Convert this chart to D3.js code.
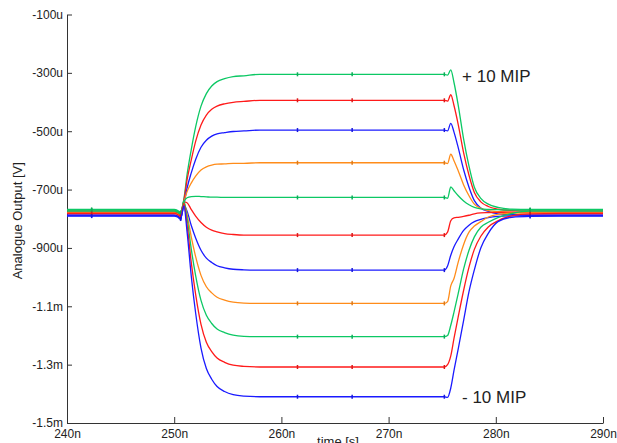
<!DOCTYPE html>
<html>
<head>
<meta charset="utf-8">
<script src="https://cdn.jsdelivr.net/npm/d3@7"></script>
<style>
  body { margin: 0; background: #fff; }
  svg text { font-family: "Liberation Sans", Arial, sans-serif; fill: #222; }
</style>
</head>
<body>
<svg id="chart" width="617" height="443"></svg>
<script>
// ==========================
// DATA (time in ns, output in uV)
// ==========================
const timeNs = [240, 242.3, 250.0, 250.3, 250.6, 250.9, 251.2, 251.6, 252.0, 252.5, 253.0, 253.5, 254.0, 254.7, 255.5, 256.5, 258,
  261.5, 266.6, 271, 275.2, 275.5, 275.8, 276.1, 276.5, 277.0, 277.5, 278.0, 278.6, 279.3, 280.2, 281.5, 283.2, 286, 290];

const curve1 = [-768, -768, -768, -771, -778, -733, -649, -561, -485, -414, -371, -345, -330, -320, -313, -310, -305,
  -305, -305, -305, -305, -308, -290, -333, -412, -527, -620, -692, -730, -750, -761, -767, -768, -768, -768];
const curve2 = [-773, -773, -773, -776, -783, -738, -667, -597, -535, -479, -445, -425, -414, -406, -401, -398, -394,
  -394, -394, -394, -394, -397, -375, -412, -478, -574, -651, -710, -742, -758, -767, -772, -773, -773, -773];
const curve3 = [-787, -787, -787, -790, -797, -752, -695, -642, -597, -555, -531, -517, -509, -505, -501, -499, -496,
  -496, -496, -496, -496, -499, -473, -503, -557, -632, -692, -738, -763, -775, -783, -786, -787, -787, -787];
const curve4 = [-779, -779, -779, -782, -789, -744, -707, -677, -654, -633, -622, -616, -613, -612, -610, -610, -608,
  -608, -608, -608, -608, -611, -579, -601, -636, -684, -721, -750, -764, -772, -776, -778, -779, -779, -779];
const curve5 = [-770, -770, -770, -773, -780, -742, -728, -724, -723, -724, -725, -726, -726, -727, -727, -727, -727,
  -727, -727, -727, -727, -730, -691, -704, -721, -739, -752, -761, -766, -768, -769, -770, -770, -770, -770];
const curve6 = [-777, -777, -777, -780, -787, -742, -745, -769, -791, -813, -829, -839, -845, -851, -854, -856, -856,
  -856, -856, -856, -856, -846, -807, -797, -795, -792, -788, -783, -780, -779, -778, -777, -777, -777, -777];
const curve7 = [-789, -789, -789, -792, -799, -754, -774, -824, -866, -908, -935, -950, -961, -968, -973, -975, -976,
  -976, -976, -976, -976, -962, -925, -896, -869, -840, -822, -810, -802, -796, -792, -790, -789, -789, -789];
const curve8 = [-780, -780, -780, -783, -790, -745, -785, -864, -930, -994, -1033, -1054, -1069, -1079, -1086, -1089, -1090,
  -1090, -1090, -1090, -1090, -1084, -1030, -1005, -948, -888, -846, -825, -810, -794, -785, -781, -780, -780, -780];
const curve9 = [-774, -774, -774, -777, -784, -739, -798, -906, -995, -1080, -1131, -1159, -1178, -1190, -1199, -1203, -1204,
  -1204, -1204, -1204, -1204, -1200, -1165, -1120, -1055, -972, -908, -862, -829, -812, -796, -782, -774, -774, -774];
const curve10 = [-782, -782, -782, -785, -792, -747, -821, -952, -1059, -1162, -1223, -1255, -1277, -1292, -1302, -1306, -1308,
  -1308, -1308, -1308, -1308, -1300, -1270, -1210, -1135, -1045, -966, -905, -860, -828, -807, -790, -783, -782, -782];
const curve11 = [-791, -791, -791, -794, -801, -756, -845, -999, -1123, -1243, -1313, -1350, -1375, -1392, -1403, -1408, -1410,
  -1410, -1410, -1410, -1410, -1412, -1380, -1320, -1245, -1148, -1050, -975, -900, -850, -810, -795, -792, -791, -791];

const curves = [curve1, curve2, curve3, curve4, curve5, curve6, curve7, curve8, curve9, curve10, curve11];
const curveColors = ["#0cc864", "#ff1a1a", "#1a1aff", "#ff8c1a", "#0cc864", "#ff1a1a", "#1a1aff", "#ff8c1a", "#0cc864", "#ff1a1a", "#1a1aff"];

// simulation sample points drawn as small ticks on every curve
const markerIdx = [1, 4, 17, 18, 20, 32];

const xTicks = [240, 250, 260, 270, 280, 290];
const xTickLabels = ["240n", "250n", "260n", "270n", "280n", "290n"];
const yTicks = [-100, -300, -500, -700, -900, -1100, -1300, -1500];
const yTickLabels = ["-100u", "-300u", "-500u", "-700u", "-900u", "-1.1m", "-1.3m", "-1.5m"];

const notes = [
  { text: "+ 10 MIP", t: 276.85, v: -331 },
  { text: "- 10 MIP", t: 276.85, v: -1431 }
];

// ==========================
// CHART
// ==========================
const svg = d3.select("#chart");

const x = d3.scaleLinear().domain([240, 290]).range([67, 603]);
const y = d3.scaleLinear().domain([-1500, -100]).range([423, 14.5]);

const xAxis = svg.append("g")
  .attr("transform", `translate(0,${y(-1500)})`)
  .call(d3.axisBottom(x)
    .tickValues(xTicks)
    .tickFormat((d, i) => xTickLabels[i])
    .tickSizeInner(-6)
    .tickSizeOuter(0)
    .tickPadding(6));

const yAxis = svg.append("g")
  .attr("transform", `translate(${x(240)},0)`)
  .call(d3.axisLeft(y)
    .tickValues(yTicks)
    .tickFormat((d, i) => yTickLabels[i])
    .tickSizeInner(-5)
    .tickSizeOuter(0)
    .tickPadding(4));

[xAxis, yAxis].forEach(g => {
  g.select(".domain").attr("stroke", "#333");
  g.selectAll(".tick line").attr("stroke", "#333");
  g.selectAll(".tick text").attr("font-size", 12).attr("fill", "#222")
    .attr("font-family", "Liberation Sans, Arial, sans-serif");
});

svg.append("text")
  .attr("transform", `translate(22,${(y(-100) + y(-1500)) / 2 + 2}) rotate(-90)`)
  .attr("text-anchor", "middle")
  .attr("font-size", 13)
  .text("Analogue Output [V]");

// the x title sits right at the lower edge, as in the original export
svg.append("text")
  .attr("x", 338)
  .attr("y", 446)
  .attr("text-anchor", "middle")
  .attr("font-size", 13)
  .text("time [s]");

const line = d3.line()
  .x((d, i) => x(timeNs[i]))
  .y(d => y(d))
  .curve(d3.curveMonotoneX);

const plot = svg.append("g");

curves.forEach((vals, k) => {
  plot.append("path")
    .datum(vals)
    .attr("fill", "none")
    .attr("stroke", curveColors[k])
    .attr("stroke-width", 1.3)
    .attr("d", line);

  plot.selectAll(null)
    .data(markerIdx)
    .enter()
    .append("line")
    .attr("x1", i => x(timeNs[i]))
    .attr("x2", i => x(timeNs[i]))
    .attr("y1", i => y(vals[i]) - 2)
    .attr("y2", i => y(vals[i]) + 2)
    .attr("stroke", d3.rgb(curveColors[k]).darker(0.4))
    .attr("stroke-width", 1.5);
});

svg.selectAll(".note")
  .data(notes)
  .enter()
  .append("text")
  .attr("class", "note")
  .attr("x", d => x(d.t))
  .attr("y", d => y(d.v))
  .attr("font-size", 17)
  .text(d => d.text);
</script>
</body>
</html>
